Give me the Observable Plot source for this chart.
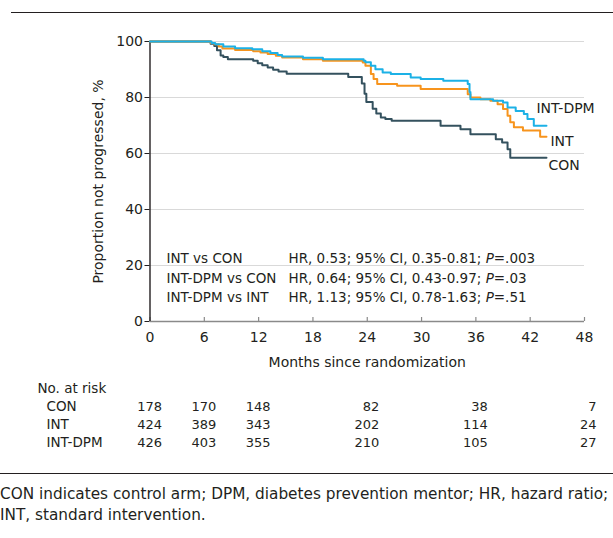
<!DOCTYPE html>
<html>
<head>
<meta charset="utf-8">
<script src="https://cdn.jsdelivr.net/npm/d3@7"></script>
<script src="https://cdn.jsdelivr.net/npm/@observablehq/plot@0.6"></script>
<style>
  html, body { margin: 0; padding: 0; background: #fff; }
  body { font-family: "DejaVu Sans", sans-serif; color: #231f20; }
  #wrap { position: relative; width: 613px; height: 538px; overflow: hidden; }
  #chart, #risk { position: absolute; left: 0; }
  #chart { top: 0; }
  #risk { top: 375px; }
  .rule { position: absolute; height: 0; border-top: 1.6px solid #231f20; }
  #note { position: absolute; left: 0; top: 484px; font-size: 15.3px; line-height: 21px; white-space: nowrap; }
</style>
</head>
<body>
<div id="wrap">
  <div class="rule" style="left:11px; right:0; top:12px;"></div>
  <div id="chart"></div>
  <div id="risk"></div>
  <div class="rule" style="left:0; right:0; top:473px;"></div>
  <div id="note">CON indicates control arm; DPM, diabetes prevention mentor; HR, hazard ratio;<br>INT, standard intervention.</div>
</div>
<script>
// ---- Data ----
const seriesNames = ["CON", "INT", "INT-DPM"];
const seriesColors = ["#34515e", "#f7941d", "#1cb1e6"];

const conMonths = [0, 6.7, 7.1, 7.4, 7.8, 8.1, 8.6, 11.4, 11.9, 12.4, 13.0, 13.6, 14.2, 15.1, 21.9, 23.4, 23.7, 23.9, 24.6, 25.0, 25.5, 26.0, 26.7, 32.1, 34.3, 35.4, 38.2, 38.9, 39.5, 39.8, 43.8];
const conPct    = [100, 99.2, 98.4, 96.9, 95.0, 94.5, 93.7, 93.1, 92.2, 91.5, 90.7, 89.9, 89.3, 88.5, 87.3, 85.0, 81.3, 78.4, 76.0, 74.3, 72.9, 72.3, 71.7, 69.9, 68.7, 66.9, 65.1, 63.9, 61.5, 58.5, 58.5];

const intMonths = [0, 6.7, 7.1, 7.6, 8.0, 9.4, 11.4, 12.2, 13.0, 13.9, 14.6, 16.9, 19.1, 23.5, 23.8, 24.4, 24.7, 25.1, 27.3, 29.9, 35.1, 35.4, 36.5, 37.6, 38.4, 39.0, 39.5, 39.8, 40.2, 41.2, 43.1, 43.8];
const intPct    = [100, 99.5, 99.0, 98.2, 97.5, 97.0, 96.5, 96.1, 95.5, 94.9, 94.3, 93.7, 93.1, 92.5, 91.3, 88.4, 86.6, 84.8, 84.2, 83.0, 81.2, 80.0, 79.4, 78.8, 77.6, 75.9, 73.5, 71.2, 69.4, 68.2, 66.0, 66.0];

const dpmMonths = [0, 6.8, 7.2, 8.1, 9.4, 11.3, 12.4, 13.3, 14.1, 14.6, 16.9, 19.1, 23.6, 23.8, 24.4, 24.9, 25.7, 26.6, 28.8, 29.9, 32.4, 35.1, 35.3, 35.4, 37.9, 39.0, 39.5, 40.4, 41.3, 41.7, 42.4, 43.8];
const dpmPct    = [100, 99.5, 99.0, 98.2, 97.6, 97.2, 96.5, 95.9, 95.2, 94.6, 94.2, 93.7, 93.1, 92.6, 91.3, 90.1, 88.9, 88.4, 87.1, 86.6, 86.0, 84.8, 82.0, 79.4, 78.8, 78.2, 76.4, 75.2, 74.1, 72.3, 69.9, 69.9];

const xTicks = [0, 6, 12, 18, 24, 30, 36, 42, 48];
const yTicks = [0, 20, 40, 60, 80, 100];
const yGrid = [20, 40, 60, 80, 100];

const comparisons = ["INT vs CON", "INT-DPM vs CON", "INT-DPM vs INT"];
const hrTexts = [
  "HR, 0.53; 95% CI, 0.35-0.81; P=.003",
  "HR, 0.64; 95% CI, 0.43-0.97; P=.03",
  "HR, 1.13; 95% CI, 0.78-1.63; P=.51"
];

const riskMonths = [0, 6, 12, 24, 36, 48];
const riskCON = [178, 170, 148, 82, 38, 7];
const riskINT = [424, 389, 343, 202, 114, 24];
const riskDPM = [426, 403, 355, 210, 105, 27];

const xLabel = "Months since randomization";
const yLabel = "Proportion not progressed, %";
const riskHeader = "No. at risk";

// ---- Build tables ----
const curves = [
  ...conMonths.map((m, i) => ({series: "CON", month: m, pct: conPct[i]})),
  ...intMonths.map((m, i) => ({series: "INT", month: m, pct: intPct[i]})),
  ...dpmMonths.map((m, i) => ({series: "INT-DPM", month: m, pct: dpmPct[i]}))
];
const ends = [
  {series: "CON", month: conMonths.at(-1), pct: conPct.at(-1)},
  {series: "INT", month: intMonths.at(-1), pct: intPct.at(-1)},
  {series: "INT-DPM", month: dpmMonths.at(-1), pct: dpmPct.at(-1)}
];
const color = {domain: seriesNames, range: seriesColors};
const FONT = "DejaVu Sans, sans-serif";

const chart = Plot.plot({
  width: 613,
  height: 375,
  marginLeft: 149.5,
  marginRight: 29,
  marginTop: 41,
  marginBottom: 54,
  style: {fontFamily: FONT, fontSize: "14px", color: "#231f20", background: "transparent"},
  x: {domain: [0, 48]},
  y: {domain: [0, 100]},
  color,
  marks: [
    Plot.gridY(yGrid, {stroke: "#d9d9d9", strokeOpacity: 1, strokeWidth: 1.2}),
    Plot.axisY({ticks: yTicks, tickSize: 5, tickPadding: 2, label: null, stroke: "#231f20", fontSize: 14}),
    Plot.axisX({ticks: xTicks, tickSize: 0, tickPadding: 11, label: null, fontSize: 14}),
    Plot.ruleX(xTicks, {x: d => d, y1: 0, y2: 0, insetTop: -4, stroke: "#8a8a8a", strokeWidth: 1.2}),
    Plot.ruleY([0], {stroke: "#8a8a8a", strokeWidth: 1.6}),
    Plot.ruleX([0], {stroke: "#231f20", strokeWidth: 1.4}),
    Plot.line(curves, {x: "month", y: "pct", z: "series", stroke: "series", curve: "step-after", strokeWidth: 2}),
    Plot.text(ends.filter(d => d.series === "INT-DPM"), {x: "month", y: "pct", text: "series", textAnchor: "start", dx: -10, dy: -17, fontSize: 14, fill: "#231f20"}),
    Plot.text(ends.filter(d => d.series === "INT"), {x: "month", y: "pct", text: "series", textAnchor: "start", dx: 4, dy: 5, fontSize: 14, fill: "#231f20"}),
    Plot.text(ends.filter(d => d.series === "CON"), {x: "month", y: "pct", text: "series", textAnchor: "start", dx: 2, dy: 8, fontSize: 14, fill: "#231f20"}),
    Plot.text([comparisons.join("\n")], {frameAnchor: "bottom-left", dx: 16.5, dy: -72, textAnchor: "start", lineAnchor: "top", lineHeight: 1.43, fontSize: 13.5, fill: "#231f20"}),
    Plot.text([hrTexts.join("\n")], {frameAnchor: "bottom-left", dx: 138.5, dy: -72, textAnchor: "start", lineAnchor: "top", lineHeight: 1.43, fontSize: 13.5, fill: "#231f20", className: "hr-text"}),
    Plot.text([yLabel], {frameAnchor: "left", rotate: -90, dx: -51.5, textAnchor: "middle", lineAnchor: "middle", fontSize: 14, fill: "#231f20"}),
    Plot.text([xLabel], {frameAnchor: "bottom", dy: 41, lineAnchor: "middle", fontSize: 14, fill: "#231f20"})
  ]
});
document.getElementById("chart").appendChild(chart);

// italic P in the HR texts
d3.select(chart).selectAll(".hr-text tspan").each(function() {
  const t = d3.select(this);
  const s = t.text();
  const k = s.indexOf("P=");
  if (k < 0) return;
  t.text(null);
  t.append("tspan").text(s.slice(0, k));
  t.append("tspan").attr("font-style", "italic").text("P");
  t.append("tspan").text(s.slice(k + 1));
});

// ---- Risk table ----
const riskRows = [
  ...riskMonths.map((m, i) => ({row: "CON", month: m, n: riskCON[i]})),
  ...riskMonths.map((m, i) => ({row: "INT", month: m, n: riskINT[i]})),
  ...riskMonths.map((m, i) => ({row: "INT-DPM", month: m, n: riskDPM[i]}))
];
const rowDomain = [riskHeader, ...seriesNames];
const risk = Plot.plot({
  width: 613,
  height: 90,
  marginLeft: 149.5,
  marginRight: 29,
  marginTop: 12,
  marginBottom: 22,
  style: {fontFamily: FONT, fontSize: "13px", color: "#231f20", background: "transparent"},
  x: {domain: [0, 48], axis: null},
  y: {type: "point", domain: rowDomain, axis: null, padding: 0},
  marks: [
    Plot.text([riskHeader], {frameAnchor: "left", y: d => d, dx: -112.5, textAnchor: "start", lineAnchor: "middle", fontSize: 13.5, fill: "#231f20"}),
    Plot.text(seriesNames, {frameAnchor: "left", y: d => d, dx: -103.5, textAnchor: "start", lineAnchor: "middle", fontSize: 13.5, fill: "#231f20"}),
    Plot.text(riskRows, {x: "month", y: "row", text: d => String(d.n), textAnchor: "end", dx: 12, lineAnchor: "middle", fontSize: 13, fill: "#231f20"})
  ]
});
document.getElementById("risk").appendChild(risk);
</script>
</body>
</html>
